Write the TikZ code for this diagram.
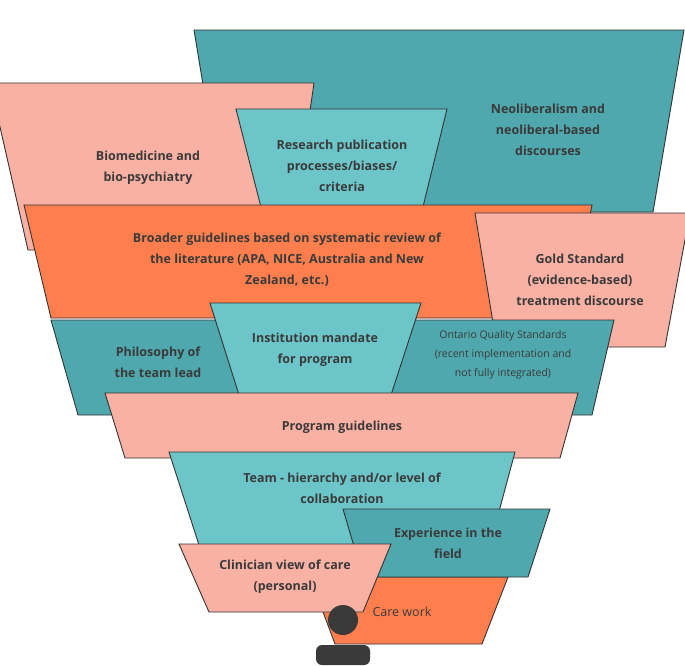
\documentclass[tikz,border=0pt]{standalone}
\usepackage{fontspec}
\setmainfont{Open Sans}
\definecolor{darkteal}{HTML}{4FA8AD}
\definecolor{lightteal}{HTML}{6CC6C9}
\definecolor{salmon}{HTML}{F9B1A4}
\definecolor{orng}{HTML}{FE7F4D}
\definecolor{ink}{HTML}{3A3A3A}
\tikzset{
    layer/.style={draw=black!80, line width=0.9pt},
    label/.style={text=ink, font=\fontsize{12.5}{21}\selectfont\bfseries, align=center},
}
\begin{document}
\begin{tikzpicture}[x=1pt, y=-1pt]
    \useasboundingbox[fill=white] (0,0) rectangle (685,665);

    \fill[layer, fill=darkteal] (194,30) -- (684,30) -- (653,212) -- (224,212) -- cycle;
    \fill[layer, fill=salmon] (-10,83) -- (314,83) -- (290,250) -- (28,250) -- cycle;
    \fill[layer, fill=lightteal] (236,109) -- (447,109) -- (419,223) -- (265,223) -- cycle;
    \fill[layer, fill=orng] (24,205) -- (592,205) -- (570,318) -- (51,318) -- cycle;
    \fill[layer, fill=salmon] (475,213) -- (690,213) -- (665,347) -- (497,347) -- cycle;
    \fill[layer, fill=darkteal] (51,320) -- (614,320) -- (592,415) -- (78,415) -- cycle;
    \fill[layer, fill=lightteal] (210,303) -- (421,303) -- (391,395) -- (239,395) -- cycle;
    \fill[layer, fill=salmon] (105,393) -- (578,393) -- (560,458) -- (125,458) -- cycle;
    \fill[layer, fill=lightteal] (169,452) -- (515,452) -- (490,545) -- (199,545) -- cycle;
    \fill[layer, fill=orng] (310,577) -- (508,577) -- (482,644) -- (335,644) -- cycle;
    \fill[layer, fill=darkteal] (343,509) -- (550,509) -- (528,577) -- (363,577) -- cycle;
    \fill[layer, fill=salmon] (179,544) -- (391,544) -- (363,612) -- (209,612) -- cycle;

    % person
    \fill[ink] (343,620) circle (15);
    \fill[ink, rounded corners=6pt] (316,665) -- (316,645) -- (370,645) -- (370,665) -- cycle;

    \node[label] (neolib) at (548,130) {Neoliberalism and\\neoliberal-based\\discourses};
    \node[label] (biomed) at (148,168) {Biomedicine and\\bio-psychiatry};
    \node[label] (research) at (342,166) {Research publication\\processes/biases/\\criteria};
    \node[label] (broader) at (287,260) {Broader guidelines based on systematic review of\\the literature (APA, NICE, Australia and New\\Zealand, etc.)};
    \node[label] (gold) at (580,280) {Gold Standard\\(evidence-based)\\treatment discourse};
    \node[label] (philo) at (158,362) {Philosophy of\\the team lead};
    \node[label] (mandate) at (315,350) {Institution mandate\\for program};
    \node[label, font=\fontsize{10.5}{19}\selectfont] (ontario) at (503,355) {Ontario Quality Standards\\(recent implementation and\\not fully integrated)};
    \node[label] (program) at (342,427) {Program guidelines};
    \node[label] (team) at (342,488) {Team - hierarchy and/or level of\\collaboration};
    \node[label] (exper) at (448,543) {Experience in the\\field};
    \node[label] (clinic) at (285,577) {Clinician view of care\\(personal)};
    \node[label, font=\fontsize{12.5}{21}\selectfont] (care) at (402,612) {Care work};
\end{tikzpicture}
\end{document}
